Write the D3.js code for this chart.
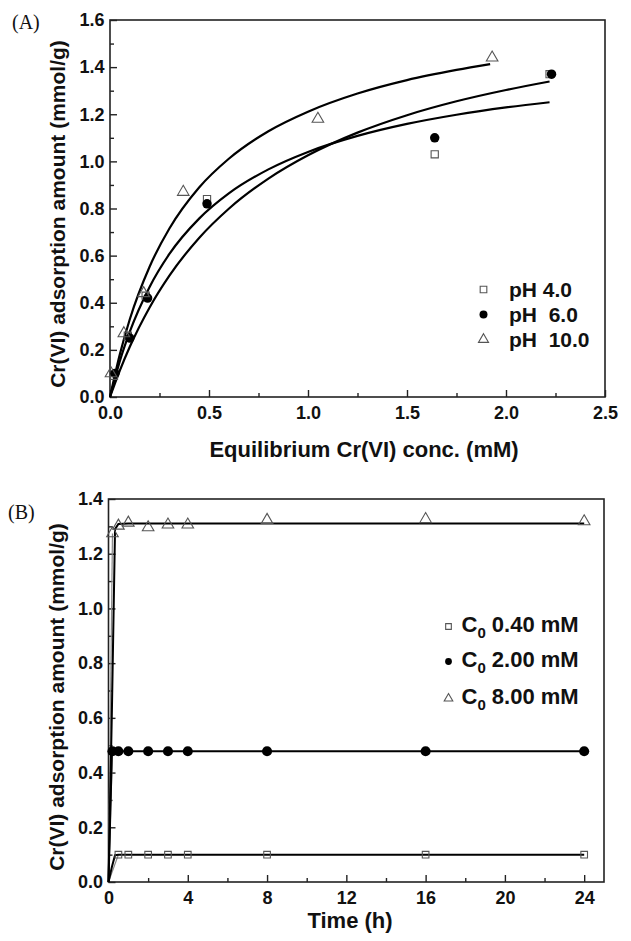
<!DOCTYPE html>
<html lang="en">
<head>
<meta charset="UTF-8">
<title>Cr(VI) adsorption isotherms and kinetics</title>
<script src="https://cdnjs.cloudflare.com/ajax/libs/d3/7.8.5/d3.min.js"></script>
<style>
  body { margin: 0; background: #fff; }
  svg text { font-family: "Liberation Sans", Arial, sans-serif; font-weight: bold; fill: #111; }
  svg text.panel { font-family: "Liberation Serif", "Times New Roman", serif; font-weight: normal; }
</style>
</head>
<body>
<svg id="chart" width="631" height="941"></svg>
<script>
// ---- Panel A: isotherms (Equilibrium conc. mM vs. adsorbed mmol/g) ----
const phLabels = ["pH 4.0", "pH  6.0", "pH  10.0"];
const ph4X = [0.02, 0.09, 0.18, 0.49, 1.64, 2.22];
const ph4Y = [0.09, 0.26, 0.43, 0.84, 1.03, 1.37];
const ph6X = [0.025, 0.10, 0.19, 0.49, 1.64, 2.23];
const ph6Y = [0.10, 0.25, 0.42, 0.82, 1.10, 1.37];
const ph10X = [0.005, 0.07, 0.17, 0.37, 1.05, 1.93];
const ph10Y = [0.10, 0.27, 0.44, 0.87, 1.18, 1.44];

// fitted curves
const fitXa = [0, 0.05, 0.1, 0.2, 0.3, 0.45, 0.6, 0.8, 1.0, 1.25, 1.5, 1.75, 2.0, 2.22];
const fit4Y = [0, 0.153, 0.277, 0.467, 0.607, 0.757, 0.864, 0.966, 1.040, 1.108, 1.159, 1.198, 1.229, 1.251];
const fit6Y = [0, 0.113, 0.213, 0.380, 0.515, 0.675, 0.799, 0.927, 1.026, 1.122, 1.196, 1.255, 1.303, 1.339];
const fitX10 = [0, 0.05, 0.1, 0.2, 0.3, 0.45, 0.6, 0.8, 1.0, 1.25, 1.5, 1.75, 1.92];
const fit10Y = [0, 0.182, 0.330, 0.553, 0.715, 0.889, 1.011, 1.128, 1.211, 1.288, 1.345, 1.388, 1.413];

const xTicksA = [0, 0.5, 1.0, 1.5, 2.0, 2.5];
const yTicksA = [0, 0.2, 0.4, 0.6, 0.8, 1.0, 1.2, 1.4, 1.6];

// ---- Panel B: kinetics (time h vs. adsorbed mmol/g) ----
const c0Labels = ["0.40 mM", "2.00 mM", "8.00 mM"];
const tSq = [0.5, 1, 2, 3, 4, 8, 16, 24];
const qSq = [0.10, 0.10, 0.10, 0.10, 0.10, 0.10, 0.10, 0.10];
const tCi = [0.2, 0.5, 1, 2, 3, 4, 8, 16, 24];
const qCi = [0.478, 0.478, 0.478, 0.478, 0.478, 0.478, 0.478, 0.478, 0.478];
const tTr = [0.2, 0.5, 1, 2, 3, 4, 8, 16, 24];
const qTr = [1.274, 1.302, 1.313, 1.296, 1.306, 1.306, 1.323, 1.326, 1.318];

const fitT = [0, 0.17, 0.33, 0.5, 1, 2, 4, 8, 16, 24];
const fitSq = [0, 0.055, 0.098, 0.100, 0.100, 0.100, 0.100, 0.100, 0.100, 0.100];
const fitCi = [0, 0.470, 0.478, 0.478, 0.478, 0.478, 0.478, 0.478, 0.478, 0.478];
const fitTr = [0, 0.62, 1.290, 1.309, 1.310, 1.310, 1.310, 1.310, 1.310, 1.310];

const xTicksB = [0, 4, 8, 12, 16, 20, 24];
const yTicksB = [0, 0.2, 0.4, 0.6, 0.8, 1.0, 1.2, 1.4];

const svg = d3.select("#chart");
const frameColor = "#222";
const markerStroke = "#555";

const sym = {
  square: d3.symbol().type(d3.symbolSquare),
  circle: d3.symbol().type(d3.symbolCircle),
  triangle: d3.symbol().type(d3.symbolTriangle)
};

function marker(g, type, cx, cy, size) {
  const filled = type === "circle";
  g.append("path")
    .attr("d", sym[type].size(size)())
    .attr("transform", `translate(${cx},${cy})`)
    .attr("fill", filled ? "#000" : "#fff")
    .attr("fill-opacity", filled ? 1 : 0)
    .attr("stroke", filled ? "none" : markerStroke)
    .attr("stroke-width", 1.1);
}

function styleAxis(g) {
  g.select(".domain").remove();
  g.selectAll("line").attr("stroke", frameColor).attr("stroke-width", 1.4);
  g.selectAll("text")
    .attr("font-size", 18)
    .attr("font-family", "Liberation Sans, Arial, sans-serif")
    .attr("font-weight", "bold")
    .attr("fill", "#111");
}

function panel(opt) {
  const { left, right, top, bottom, x, y } = opt;
  const g = svg.append("g");

  // frame
  g.append("rect")
    .attr("x", left).attr("y", top)
    .attr("width", right - left).attr("height", bottom - top)
    .attr("fill", "none").attr("stroke", frameColor).attr("stroke-width", 1.6);

  // minor ticks
  g.append("g").attr("transform", `translate(0,${bottom})`)
    .call(d3.axisBottom(x).tickValues(opt.xMinor).tickSize(-4).tickFormat(""))
    .call(styleAxis);
  g.append("g").attr("transform", `translate(${left},0)`)
    .call(d3.axisLeft(y).tickValues(opt.yMinor).tickSize(-4).tickFormat(""))
    .call(styleAxis);

  // major ticks + labels
  g.append("g").attr("transform", `translate(0,${bottom})`)
    .call(d3.axisBottom(x).tickValues(opt.xTicks).tickSize(-7).tickPadding(9).tickFormat(opt.xFmt))
    .call(styleAxis);
  g.append("g").attr("transform", `translate(${left},0)`)
    .call(d3.axisLeft(y).tickValues(opt.yTicks).tickSize(-7).tickPadding(5.5).tickFormat(d3.format(".1f")))
    .call(styleAxis);

  // axis titles
  g.append("text")
    .attr("x", opt.xTitleX).attr("y", opt.xTitleY)
    .attr("text-anchor", "middle").attr("font-size", 22)
    .text(opt.xTitle);
  g.append("text")
    .attr("transform", `translate(${opt.yTitleX},${opt.yTitleY}) rotate(-90)`)
    .attr("text-anchor", "middle").attr("font-size", 21)
    .text(opt.yTitle);

  // panel letter
  g.append("text").attr("class", "panel")
    .attr("x", opt.letterX).attr("y", opt.letterY)
    .attr("font-size", 20)
    .text(opt.letter);
  return g;
}

// ---------------- Panel A ----------------
const xA = d3.scaleLinear().domain([0, 2.5]).range([110, 605]);
const yA = d3.scaleLinear().domain([0, 1.6]).range([397, 20]);

const gA = panel({
  left: 110, right: 605, top: 20, bottom: 397, x: xA, y: yA,
  xTicks: xTicksA, yTicks: yTicksA,
  xMinor: d3.range(0.25, 2.5, 0.5), yMinor: d3.range(0.1, 1.6, 0.2),
  xFmt: d3.format(".1f"),
  xTitle: "Equilibrium Cr(VI) conc. (mM)", xTitleX: 364, xTitleY: 457,
  yTitle: "Cr(VI) adsorption amount (mmol/g)", yTitleX: 65, yTitleY: 214,
  letter: "(A)", letterX: 12, letterY: 29
});

const lineA = d3.line().x(d => xA(d[0])).y(d => yA(d[1])).curve(d3.curveMonotoneX);
[[fitXa, fit4Y], [fitXa, fit6Y], [fitX10, fit10Y]].forEach(([xs, ys]) => {
  gA.append("path")
    .attr("d", lineA(xs.map((v, i) => [v, ys[i]])))
    .attr("fill", "none").attr("stroke", "#000").attr("stroke-width", 2.2);
});

const seriesA = [
  { type: "square", xs: ph4X, ys: ph4Y, size: 52 },
  { type: "circle", xs: ph6X, ys: ph6Y, size: 70 },
  { type: "triangle", xs: ph10X, ys: ph10Y, size: 58 }
];
seriesA.forEach(s => s.xs.forEach((v, i) => marker(gA, s.type, xA(v), yA(s.ys[i]), s.size)));

// legend A
seriesA.forEach((s, i) => {
  const yy = 297 + i * 25;
  marker(gA, s.type, 483.5, yy - 7.5, s.type === "circle" ? 50 : 44);
  gA.append("text")
    .attr("x", 509).attr("y", yy)
    .attr("font-size", 21)
    .attr("xml:space", "preserve").style("white-space", "pre")
    .text(phLabels[i]);
});

// ---------------- Panel B ----------------
const xB = d3.scaleLinear().domain([0, 25]).range([108.5, 604]);
const yB = d3.scaleLinear().domain([0, 1.4]).range([882, 499]);

const gB = panel({
  left: 108.5, right: 604, top: 499, bottom: 882, x: xB, y: yB,
  xTicks: xTicksB, yTicks: yTicksB,
  xMinor: d3.range(2, 25, 4), yMinor: d3.range(0.1, 1.4, 0.2),
  xFmt: d3.format("d"),
  xTitle: "Time (h)", xTitleX: 350, xTitleY: 928,
  yTitle: "Cr(VI) adsorption amount (mmol/g)", yTitleX: 63.5, yTitleY: 697,
  letter: "(B)", letterX: 8, letterY: 519
});

const lineB = d3.line().x(d => xB(d[0])).y(d => yB(d[1]));
const seriesB = [
  { type: "square", ts: tSq, qs: qSq, fit: fitSq, size: 44 },
  { type: "circle", ts: tCi, qs: qCi, fit: fitCi, size: 80 },
  { type: "triangle", ts: tTr, qs: qTr, fit: fitTr, size: 58 }
];

// thin grey link from origin to the first measured point
seriesB.forEach(s => {
  gB.append("path")
    .attr("d", lineB([[0, 0], [s.ts[0], s.qs[0]]]))
    .attr("fill", "none").attr("stroke", "#888").attr("stroke-width", 1.2);
});
seriesB.forEach(s => {
  gB.append("path")
    .attr("d", lineB(fitT.map((t, i) => [t, s.fit[i]])))
    .attr("fill", "none").attr("stroke", "#000").attr("stroke-width", 2);
});
seriesB.forEach(s => s.ts.forEach((t, i) => marker(gB, s.type, xB(t), yB(s.qs[i]), s.size)));

// legend B
const legBY = [632, 667, 704];
seriesB.forEach((s, i) => {
  marker(gB, s.type, 448.5, legBY[i] - 5.5, s.type === "circle" ? 36 : 32);
  const t = gB.append("text")
    .attr("x", 461.5).attr("y", legBY[i])
    .attr("font-size", 22);
  t.append("tspan").text("C");
  t.append("tspan").attr("font-size", 15).attr("dy", 6).text("0");
  t.append("tspan").attr("dy", -6).text(" " + c0Labels[i]);
});
</script>
</body>
</html>
